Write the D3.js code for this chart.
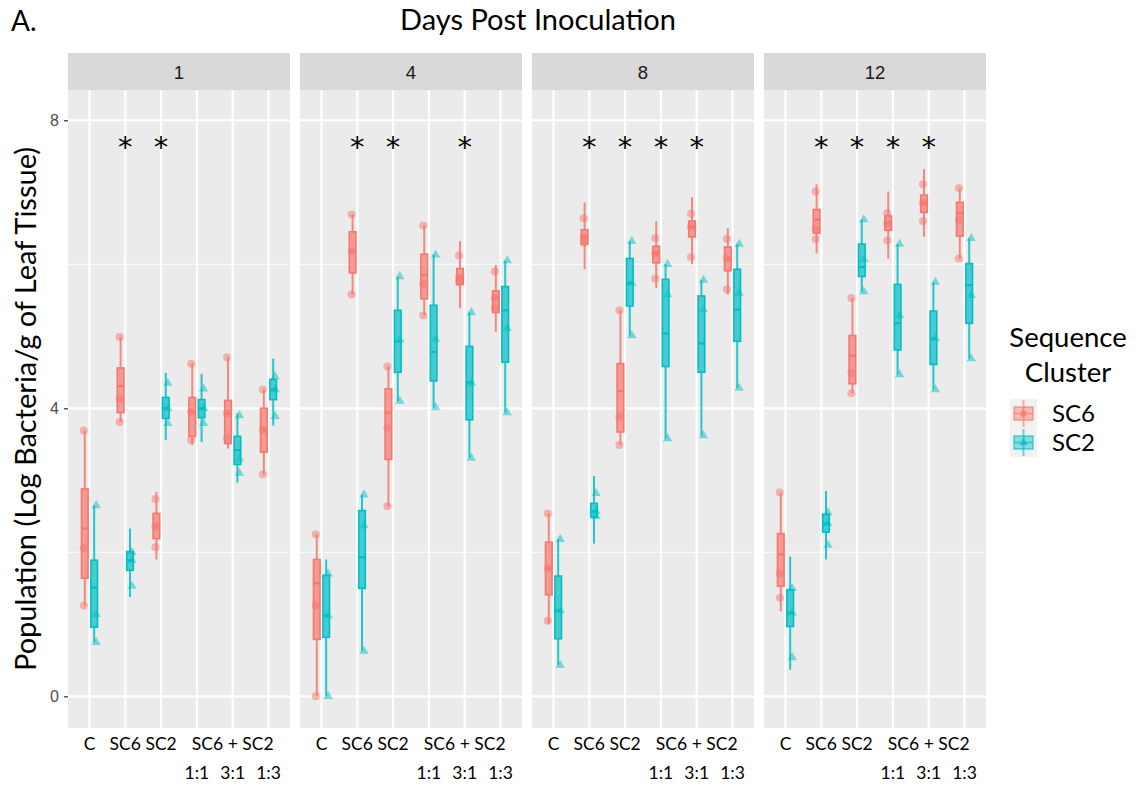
<!DOCTYPE html>
<html>
<head>
<meta charset="utf-8">
<script src="https://cdn.jsdelivr.net/npm/d3@7"></script>
<style>
  html, body { margin: 0; padding: 0; background: #ffffff; }
  svg { display: block; }
</style>
</head>
<body>
<svg id="chart" width="1136" height="787"></svg>
<script>
// Days post inoculation (facets) and treatment groups (x categories)
const days = ["1", "4", "8", "12"];
const groups = ["C", "SC6", "SC2", "1:1", "3:1", "1:3"];
const clusters = ["SC6", "SC2"];
const yTicks = [0, 4, 8];

// Box statistics per day, per group: [lower whisker, Q1, median, Q3, upper whisker]
const sc6Stats = [
  [[1.26, 1.64, 2.33, 2.88, 3.69], [3.81, 3.94, 4.31, 4.56, 4.99], [1.90, 2.19, 2.36, 2.54, 2.84], [3.49, 3.61, 3.95, 4.15, 4.62], [3.44, 3.51, 3.93, 4.11, 4.71], [3.08, 3.39, 3.70, 4.00, 4.26]],
  [[0.00, 0.79, 1.57, 1.90, 2.25], [5.58, 5.88, 6.18, 6.45, 6.69], [2.64, 3.29, 3.94, 4.27, 4.58], [5.29, 5.52, 5.85, 6.14, 6.54], [5.39, 5.72, 5.82, 5.94, 6.32], [5.06, 5.33, 5.53, 5.63, 5.99]],
  [[1.01, 1.41, 1.78, 2.14, 2.54], [5.93, 6.28, 6.38, 6.48, 6.86], [3.49, 3.67, 4.24, 4.62, 5.36], [5.67, 6.02, 6.15, 6.25, 6.60], [6.00, 6.38, 6.52, 6.60, 6.93], [5.58, 5.91, 6.08, 6.24, 6.50]],
  [[1.18, 1.53, 1.97, 2.26, 2.83], [6.15, 6.43, 6.62, 6.76, 7.11], [4.21, 4.34, 4.73, 5.01, 5.53], [6.08, 6.47, 6.57, 6.67, 7.01], [6.38, 6.72, 6.85, 6.96, 7.32], [6.08, 6.39, 6.71, 6.86, 7.06]]
];
const sc2Stats = [
  [[0.75, 0.96, 1.51, 1.89, 2.65], [1.38, 1.75, 1.89, 2.01, 2.33], [3.56, 3.86, 4.00, 4.15, 4.49], [3.53, 3.87, 4.00, 4.12, 4.48], [2.97, 3.22, 3.42, 3.61, 3.93], [3.76, 4.12, 4.26, 4.40, 4.69]],
  [[0.00, 0.82, 1.12, 1.68, 1.90], [0.63, 1.50, 1.93, 2.58, 2.80], [4.10, 4.50, 4.93, 5.36, 5.83], [4.01, 4.38, 4.78, 5.43, 6.13], [3.31, 3.84, 4.36, 4.86, 5.33], [3.94, 4.64, 5.36, 5.69, 6.05]],
  [[0.43, 0.80, 1.19, 1.67, 2.18], [2.12, 2.49, 2.57, 2.68, 3.06], [5.01, 5.42, 5.74, 6.08, 6.32], [3.58, 4.58, 5.04, 5.79, 6.00], [3.62, 4.50, 4.90, 5.56, 5.78], [4.28, 4.93, 5.37, 5.93, 6.28]],
  [[0.37, 0.97, 1.16, 1.48, 1.94], [1.90, 2.28, 2.40, 2.53, 2.85], [5.62, 5.83, 5.96, 6.28, 6.62], [4.47, 4.81, 5.18, 5.72, 6.28], [4.26, 4.61, 4.97, 5.35, 5.75], [4.69, 5.18, 5.71, 6.01, 6.36]]
];

// Individual replicate observations per day, per group
const sc6Points = [
  [[3.69, 2.06, 1.26], [4.99, 4.13, 3.81], [2.74, 2.36, 2.07], [4.62, 3.95, 3.56], [4.71, 3.93, 3.58], [4.26, 3.70, 3.08]],
  [[2.25, 1.26, 0.00], [6.69, 6.18, 5.58], [4.58, 3.73, 2.64], [6.54, 5.73, 5.29], [6.12, 5.82, 5.75], [5.90, 5.53, 5.40]],
  [[2.54, 1.78, 1.05], [6.64, 6.38, 6.30], [5.36, 3.88, 3.49], [6.36, 6.15, 5.80], [6.70, 6.52, 6.10], [6.35, 6.08, 5.65]],
  [[2.83, 1.71, 1.37], [7.01, 6.49, 6.35], [5.53, 4.49, 4.21], [6.71, 6.57, 6.33], [7.11, 6.85, 6.60], [7.06, 6.61, 6.08]]
];
const sc2Points = [
  [[2.65, 1.14, 0.75], [2.00, 1.89, 1.53], [4.35, 4.00, 3.79], [4.27, 4.00, 3.79], [3.90, 3.30, 3.10], [4.44, 4.26, 3.89]],
  [[1.70, 1.12, 0.00], [2.80, 2.37, 0.63], [5.83, 4.95, 4.10], [6.13, 4.96, 4.01], [5.33, 4.35, 3.31], [6.05, 5.11, 3.94]],
  [[2.18, 1.19, 0.43], [2.82, 2.57, 2.50], [6.32, 5.74, 5.01], [6.00, 5.58, 3.58], [5.78, 5.37, 3.62], [6.28, 5.60, 4.28]],
  [[1.50, 1.16, 0.54], [2.55, 2.40, 2.10], [6.62, 6.07, 5.62], [6.28, 5.29, 4.47], [5.75, 4.97, 4.26], [6.36, 5.57, 4.69]]
];

// Groups marked as significantly different, per day
const significant = [
  ["SC6", "SC2"],
  ["SC6", "SC2", "3:1"],
  ["SC6", "SC2", "1:1", "3:1"],
  ["SC6", "SC2", "1:1", "3:1"]
];

const colors = { SC6: "#F8766D", SC2: "#00BFC4" };
const statsBy = { SC6: sc6Stats, SC2: sc2Stats };
const pointsBy = { SC6: sc6Points, SC2: sc2Points };

const svg = d3.select("#chart");
const uiFont = "Lato, 'Open Sans', sans-serif";
const axisFont = "'Liberation Sans', Arial, sans-serif";

// Layout
const panelTop = 90, panelBottom = 728, stripTop = 53;
const panelWidth = 222, panelGap = 10, firstPanelX = 68;

const y = d3.scaleLinear().domain([-0.44, 8.42]).range([panelBottom, panelTop]);
const facetX = d3.scaleBand().domain(days)
  .range([firstPanelX, firstPanelX + 4 * panelWidth + 3 * panelGap])
  .paddingInner(panelGap / (panelWidth + panelGap)).paddingOuter(0);
const x = d3.scalePoint().domain(groups).range([0, panelWidth]).padding(0.6);
const dodge = d3.scalePoint().domain(clusters).range([-4.7, 4.7]);
const boxW = 6.6;

// Figure titles
svg.append("text").attr("x", 11).attr("y", 31)
  .attr("font-family", uiFont).attr("font-size", 28).attr("fill", "#000")
  .text("A.");
svg.append("text").attr("x", 538).attr("y", 30).attr("text-anchor", "middle")
  .attr("font-family", uiFont).attr("font-size", 29).attr("fill", "#000")
  .text("Days Post Inoculation");

// Y axis title
svg.append("text")
  .attr("transform", `translate(36, ${(panelTop + panelBottom) / 2}) rotate(-90)`)
  .attr("text-anchor", "middle")
  .attr("font-family", uiFont).attr("font-size", 29).attr("fill", "#000")
  .text("Population (Log Bacteria/g of Leaf Tissue)");

// Y axis ticks and labels (left of the first panel)
const yAxis = svg.append("g").attr("transform", `translate(${firstPanelX},0)`)
  .call(d3.axisLeft(y).tickValues(yTicks).tickSize(4).tickPadding(5).tickFormat(d3.format("d")));
yAxis.select(".domain").remove();
yAxis.selectAll(".tick line").attr("stroke", "#4d4d4d").attr("stroke-width", 1.4);
yAxis.selectAll(".tick text").attr("fill", "#4d4d4d").attr("font-family", axisFont).attr("font-size", 16);

days.forEach((day, di) => {
  const px = facetX(day);
  const g = svg.append("g").attr("transform", `translate(${px},0)`);

  // Panel background and strip
  g.append("rect").attr("x", 0).attr("y", panelTop).attr("width", panelWidth)
    .attr("height", panelBottom - panelTop).attr("fill", "#EBEBEB");
  g.append("rect").attr("x", 0).attr("y", stripTop).attr("width", panelWidth)
    .attr("height", panelTop - stripTop).attr("fill", "#D9D9D9");
  g.append("text").attr("x", panelWidth / 2).attr("y", (stripTop + panelTop) / 2 + 7)
    .attr("text-anchor", "middle").attr("font-family", axisFont).attr("font-size", 18.5)
    .attr("fill", "#1a1a1a").text(day);

  // Grid lines
  const minor = [2, 6];
  g.selectAll(".minor").data(minor).join("line")
    .attr("x1", 0).attr("x2", panelWidth).attr("y1", d => y(d)).attr("y2", d => y(d))
    .attr("stroke", "#ffffff").attr("stroke-width", 1.1);
  g.selectAll(".major").data(yTicks).join("line")
    .attr("x1", 0).attr("x2", panelWidth).attr("y1", d => y(d)).attr("y2", d => y(d))
    .attr("stroke", "#ffffff").attr("stroke-width", 2.2);
  g.selectAll(".vgrid").data(groups).join("line")
    .attr("x1", d => x(d)).attr("x2", d => x(d)).attr("y1", panelTop).attr("y2", panelBottom)
    .attr("stroke", "#ffffff").attr("stroke-width", 2.2);

  // Boxplots
  clusters.forEach(cl => {
    const col = colors[cl];
    groups.forEach((grp, gi) => {
      const [lo, q1, med, q3, hi] = statsBy[cl][di][gi];
      const cx = x(grp) + dodge(cl);
      const b = g.append("g");
      b.append("line").attr("x1", cx).attr("x2", cx).attr("y1", y(hi)).attr("y2", y(q3))
        .attr("stroke", col).attr("stroke-width", 2).attr("stroke-opacity", 0.85);
      b.append("line").attr("x1", cx).attr("x2", cx).attr("y1", y(q1)).attr("y2", y(lo))
        .attr("stroke", col).attr("stroke-width", 2).attr("stroke-opacity", 0.85);
      b.append("rect").attr("x", cx - boxW / 2).attr("y", y(q3))
        .attr("width", boxW).attr("height", Math.max(1, y(q1) - y(q3)))
        .attr("fill", col).attr("fill-opacity", 0.7)
        .attr("stroke", col).attr("stroke-width", 1.6);
      b.append("line").attr("x1", cx - boxW / 2).attr("x2", cx + boxW / 2)
        .attr("y1", y(med)).attr("y2", y(med))
        .attr("stroke", col).attr("stroke-width", 2.2);

      // Replicate points
      pointsBy[cl][di][gi].forEach(v => {
        if (cl === "SC6") {
          b.append("circle").attr("cx", cx - 1).attr("cy", y(v)).attr("r", 4)
            .attr("fill", col).attr("fill-opacity", 0.5);
        } else {
          b.append("path")
            .attr("d", d3.symbol().type(d3.symbolTriangle).size(38)())
            .attr("transform", `translate(${cx + 2},${y(v)})`)
            .attr("fill", col).attr("fill-opacity", 0.5);
        }
      });
    });
  });

  // Significance markers
  g.selectAll(".star").data(significant[di]).join("text")
    .attr("x", d => x(d)).attr("y", y(7.68) + 14)
    .attr("text-anchor", "middle").attr("font-family", "'DejaVu Sans', sans-serif")
    .attr("font-size", 29).attr("fill", "#000").text("*");

  // Category labels under the panel
  const fs = 17.5;
  g.selectAll(".xlab1").data(groups.slice(0, 3)).join("text")
    .attr("x", d => x(d)).attr("y", 750).attr("text-anchor", "middle")
    .attr("font-family", uiFont).attr("font-size", fs).attr("fill", "#000").text(d => d);
  g.append("text").attr("x", x("3:1")).attr("y", 750).attr("text-anchor", "middle")
    .attr("font-family", uiFont).attr("font-size", fs).attr("fill", "#000").text("SC6 + SC2");
  g.selectAll(".xlab2").data(groups.slice(3)).join("text")
    .attr("x", d => x(d)).attr("y", 779).attr("text-anchor", "middle")
    .attr("font-family", uiFont).attr("font-size", fs).attr("fill", "#000").text(d => d);
});

// Legend
const legend = svg.append("g");
legend.append("text").attr("x", 1068).attr("y", 347).attr("text-anchor", "middle")
  .attr("font-family", uiFont).attr("font-size", 27.5).attr("fill", "#000").text("Sequence");
legend.append("text").attr("x", 1068).attr("y", 382).attr("text-anchor", "middle")
  .attr("font-family", uiFont).attr("font-size", 27.5).attr("fill", "#000").text("Cluster");
clusters.forEach((cl, i) => {
  const ky = 399 + i * 29;
  const col = colors[cl];
  const k = legend.append("g").attr("transform", `translate(1010,${ky})`);
  k.append("rect").attr("width", 27).attr("height", 29).attr("fill", "#F2F2F2");
  k.append("line").attr("x1", 13.5).attr("x2", 13.5).attr("y1", 1).attr("y2", 28)
    .attr("stroke", col).attr("stroke-width", 2).attr("stroke-opacity", 0.6);
  k.append("rect").attr("x", 4).attr("y", 8).attr("width", 19).attr("height", 13)
    .attr("fill", col).attr("fill-opacity", 0.45).attr("stroke", col).attr("stroke-opacity", 0.6).attr("stroke-width", 1.6);
  k.append("line").attr("x1", 4).attr("x2", 23).attr("y1", 14.5).attr("y2", 14.5)
    .attr("stroke", col).attr("stroke-width", 1.6).attr("stroke-opacity", 0.6);
  if (cl === "SC6") {
    k.append("circle").attr("cx", 13.5).attr("cy", 14.5).attr("r", 3.2).attr("fill", col).attr("fill-opacity", 0.7);
  } else {
    k.append("path").attr("d", d3.symbol().type(d3.symbolTriangle).size(30)())
      .attr("transform", "translate(13.5,14.5)").attr("fill", col).attr("fill-opacity", 0.7);
  }
  legend.append("text").attr("x", 1052).attr("y", ky + 23)
    .attr("font-family", uiFont).attr("font-size", 24).attr("fill", "#000").text(cl);
});
</script>
</body>
</html>
